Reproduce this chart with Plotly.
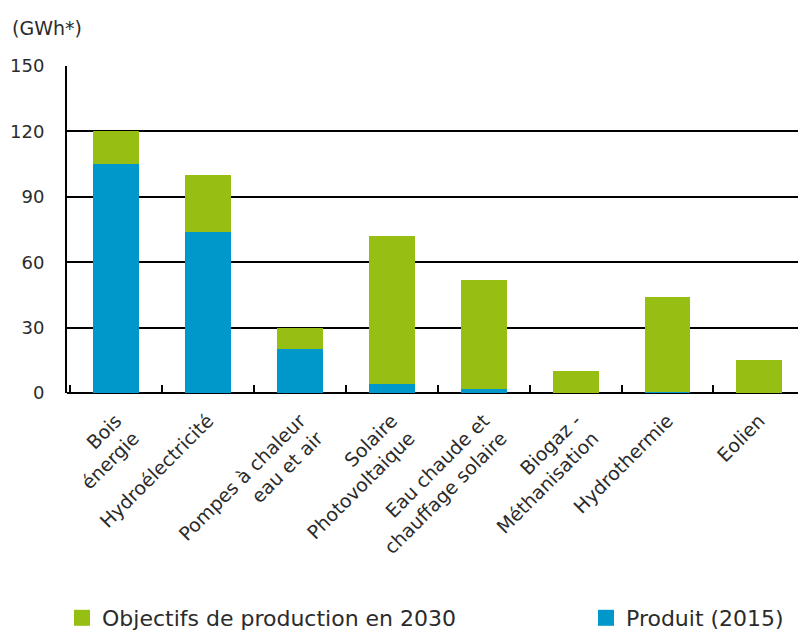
import plotly.graph_objects as go

categories = ["Bois<br>énergie", "Hydroélectricité", "Pompes à chaleur<br>eau et air",
              "Solaire<br>Photovoltaique", "Eau chaude et<br>chauffage solaire",
              "Biogaz -<br>Méthanisation", "Hydrothermie", "Eolien"]
produit_2015 = [105, 74, 20, 4, 2, 0, 0.5, 0]
objectifs_2030 = [120, 100, 30, 72, 52, 10, 44, 15]
y_ticks = [0, 30, 60, 90, 120, 150]

GREEN = "#97BE12"
BLUE = "#0098CA"
TXT = "#2b2b2b"
FONT = "DejaVu Sans"

ecart = [o - p for o, p in zip(objectifs_2030, produit_2015)]
x_idx = list(range(len(categories)))

fig = go.Figure()
fig.add_trace(go.Bar(x=x_idx, y=produit_2015, marker=dict(color=BLUE, line=dict(width=0)),
                     name="Produit (2015)", showlegend=False))
fig.add_trace(go.Bar(x=x_idx, y=ecart, marker=dict(color=GREEN, line=dict(width=0)),
                     name="Objectifs de production en 2030", showlegend=False))
# legend entries
fig.add_trace(go.Scatter(x=[None], y=[None], mode="markers",
                         marker=dict(symbol="square", size=21, color=GREEN),
                         name="Objectifs de production en 2030", legend="legend"))
fig.add_trace(go.Scatter(x=[None], y=[None], mode="markers",
                         marker=dict(symbol="square", size=21, color=BLUE),
                         name="Produit (2015)", legend="legend2"))

L, T, B = 67, 66, 393
W, H = 798, 630
pw = W - L

fig.update_layout(
    width=W, height=H,
    margin=dict(l=L, r=0, t=T, b=H - B, pad=0),
    paper_bgcolor="white", plot_bgcolor="white",
    barmode="stack", bargap=0.5,
    font=dict(family=FONT, color=TXT),
    xaxis=dict(
        range=[-0.535, 7.42], tickmode="array", tickvals=x_idx, ticktext=categories,
        tickangle=-45, tickfont=dict(size=19, color=TXT, family=FONT),
        ticks="", ticklabelstandoff=12,
        minor=dict(tickmode="linear", tick0=0.5, dtick=1, ticks="inside",
                   ticklen=8, tickwidth=2, tickcolor="black", showgrid=False),
        showgrid=False, showline=False, zeroline=False, fixedrange=True,
    ),
    yaxis=dict(
        range=[0, 150], tickmode="array", tickvals=y_ticks,
        tickfont=dict(size=18, color=TXT, family=FONT),
        showgrid=True, gridcolor="black", gridwidth=2,
        zeroline=True, zerolinecolor="black", zerolinewidth=2,
        showline=True, linecolor="black", linewidth=2,
        ticks="", ticklabelstandoff=17,
    ),
    legend=dict(xref="container", yref="container", x=62 / W, y=1 - 618 / H,
                xanchor="left", yanchor="middle", orientation="h",
                font=dict(size=22, color=TXT, family=FONT), itemsizing="trace",
                bgcolor="rgba(0,0,0,0)"),
    legend2=dict(xref="container", yref="container", x=586 / W, y=1 - 618 / H,
                 xanchor="left", yanchor="middle", orientation="h",
                 font=dict(size=22, color=TXT, family=FONT), itemsizing="trace",
                 bgcolor="rgba(0,0,0,0)"),
    annotations=[dict(text="(GWh*)", xref="paper", yref="paper",
                      x=(10 - L) / pw, y=(B - 28) / (B - T),
                      xanchor="left", yanchor="middle", showarrow=False,
                      font=dict(size=19, color=TXT, family=FONT))],
)

fig.write_html("out.html")
